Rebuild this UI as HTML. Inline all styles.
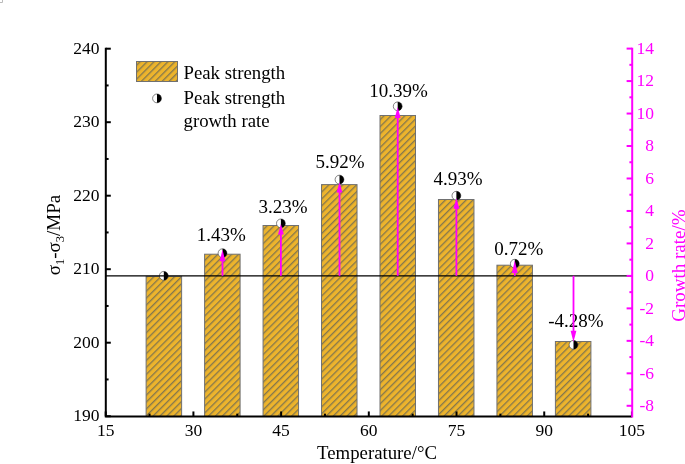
<!DOCTYPE html>
<html><head><meta charset="utf-8"><style>
html,body{margin:0;padding:0;background:#fff;width:685px;height:464px;overflow:hidden}
svg{display:block;will-change:transform}
</style></head><body>
<svg width="685" height="464" viewBox="0 0 685 464" font-family='"Liberation Serif", serif'>
<defs>
<pattern id="h" patternUnits="userSpaceOnUse" width="4.9" height="4.9" patternTransform="rotate(45)"><rect width="4.9" height="4.9" fill="#edb42c"/><line x1="0.7" y1="0" x2="0.7" y2="4.9" stroke="#787050" stroke-width="1.2"/></pattern>
</defs>
<rect width="685" height="464" fill="#fff"/>
<path d="M0 2.5 H2.5 V0" fill="none" stroke="#bbb" stroke-width="1"/>
<rect x="146.12" y="276.40" width="35.50" height="140.05" fill="url(#h)" stroke="#707070" stroke-width="1"/>
<rect x="204.59" y="254.20" width="35.50" height="162.25" fill="url(#h)" stroke="#707070" stroke-width="1"/>
<rect x="263.06" y="225.50" width="35.50" height="190.95" fill="url(#h)" stroke="#707070" stroke-width="1"/>
<rect x="321.53" y="184.60" width="35.50" height="231.85" fill="url(#h)" stroke="#707070" stroke-width="1"/>
<rect x="380.00" y="115.50" width="35.50" height="300.95" fill="url(#h)" stroke="#707070" stroke-width="1"/>
<rect x="438.47" y="199.50" width="35.50" height="216.95" fill="url(#h)" stroke="#707070" stroke-width="1"/>
<rect x="496.94" y="265.20" width="35.50" height="151.25" fill="url(#h)" stroke="#707070" stroke-width="1"/>
<rect x="555.41" y="341.50" width="35.50" height="74.95" fill="url(#h)" stroke="#707070" stroke-width="1"/>
<text x="221.34" y="240.89" font-size="19" text-anchor="middle" fill="#000">1.43%</text>
<text x="283.11" y="212.96" font-size="19" text-anchor="middle" fill="#000">3.23%</text>
<text x="340.08" y="168.49" font-size="19" text-anchor="middle" fill="#000">5.92%</text>
<text x="398.55" y="97.11" font-size="19" text-anchor="middle" fill="#000">10.39%</text>
<text x="457.92" y="185.16" font-size="19" text-anchor="middle" fill="#000">4.93%</text>
<text x="518.79" y="255.11" font-size="19" text-anchor="middle" fill="#000">0.72%</text>
<text x="575.96" y="327.30" font-size="19" text-anchor="middle" fill="#000">-4.28%</text>
<circle cx="163.80" cy="275.80" r="4.4" fill="#fff" stroke="#333" stroke-width="0.6"/><path d="M163.80 271.40 A4.4 4.4 0 0 1 163.80 280.20 Z" fill="#000"/>
<circle cx="222.50" cy="253.20" r="4.4" fill="#fff" stroke="#333" stroke-width="0.6"/><path d="M222.50 248.80 A4.4 4.4 0 0 1 222.50 257.60 Z" fill="#000"/>
<circle cx="280.90" cy="223.40" r="4.4" fill="#fff" stroke="#333" stroke-width="0.6"/><path d="M280.90 219.00 A4.4 4.4 0 0 1 280.90 227.80 Z" fill="#000"/>
<circle cx="339.50" cy="179.60" r="4.4" fill="#fff" stroke="#333" stroke-width="0.6"/><path d="M339.50 175.20 A4.4 4.4 0 0 1 339.50 184.00 Z" fill="#000"/>
<circle cx="397.70" cy="106.30" r="4.4" fill="#fff" stroke="#333" stroke-width="0.6"/><path d="M397.70 101.90 A4.4 4.4 0 0 1 397.70 110.70 Z" fill="#000"/>
<circle cx="456.40" cy="195.70" r="4.4" fill="#fff" stroke="#333" stroke-width="0.6"/><path d="M456.40 191.30 A4.4 4.4 0 0 1 456.40 200.10 Z" fill="#000"/>
<circle cx="514.80" cy="263.70" r="4.4" fill="#fff" stroke="#333" stroke-width="0.6"/><path d="M514.80 259.30 A4.4 4.4 0 0 1 514.80 268.10 Z" fill="#000"/>
<circle cx="573.50" cy="344.80" r="4.4" fill="#fff" stroke="#333" stroke-width="0.6"/><path d="M573.50 340.40 A4.4 4.4 0 0 1 573.50 349.20 Z" fill="#000"/>
<line x1="105.8" y1="275.90" x2="632.2" y2="275.90" stroke="#000" stroke-width="1.3"/>
<line x1="222.50" y1="275.80" x2="222.50" y2="255.45" stroke="#ff00ff" stroke-width="1.8"/>
<path d="M222.50 249.70 L219.60 261.20 L225.40 261.20 Z" fill="#ff00ff"/>
<line x1="280.90" y1="275.80" x2="280.90" y2="229.15" stroke="#ff00ff" stroke-width="1.8"/>
<path d="M280.90 223.90 L278.00 234.40 L283.80 234.40 Z" fill="#ff00ff"/>
<line x1="339.50" y1="275.80" x2="339.50" y2="187.25" stroke="#ff00ff" stroke-width="1.8"/>
<path d="M339.50 181.90 L336.60 192.60 L342.40 192.60 Z" fill="#ff00ff"/>
<line x1="397.70" y1="275.80" x2="397.70" y2="112.55" stroke="#ff00ff" stroke-width="1.8"/>
<path d="M397.70 107.10 L394.80 118.00 L400.60 118.00 Z" fill="#ff00ff"/>
<line x1="456.40" y1="275.80" x2="456.40" y2="203.30" stroke="#ff00ff" stroke-width="1.8"/>
<path d="M456.40 197.90 L453.50 208.70 L459.30 208.70 Z" fill="#ff00ff"/>
<line x1="514.80" y1="275.80" x2="514.80" y2="266.80" stroke="#ff00ff" stroke-width="1.8"/>
<path d="M514.80 260.50 L511.90 273.10 L517.70 273.10 Z" fill="#ff00ff"/>
<line x1="573.50" y1="275.80" x2="573.50" y2="336.40" stroke="#ff00ff" stroke-width="1.8"/>
<path d="M573.50 342.10 L570.60 330.70 L576.40 330.70 Z" fill="#ff00ff"/>
<line x1="105.8" y1="416.20" x2="110.8" y2="416.20" stroke="#000" stroke-width="2"/>
<text x="99.5" y="421.10" font-size="17.5" text-anchor="end" fill="#000">190</text>
<line x1="105.8" y1="379.45" x2="108.6" y2="379.45" stroke="#000" stroke-width="2"/>
<line x1="105.8" y1="342.70" x2="110.8" y2="342.70" stroke="#000" stroke-width="2"/>
<text x="99.5" y="347.60" font-size="17.5" text-anchor="end" fill="#000">200</text>
<line x1="105.8" y1="305.95" x2="108.6" y2="305.95" stroke="#000" stroke-width="2"/>
<line x1="105.8" y1="269.20" x2="110.8" y2="269.20" stroke="#000" stroke-width="2"/>
<text x="99.5" y="274.10" font-size="17.5" text-anchor="end" fill="#000">210</text>
<line x1="105.8" y1="232.45" x2="108.6" y2="232.45" stroke="#000" stroke-width="2"/>
<line x1="105.8" y1="195.70" x2="110.8" y2="195.70" stroke="#000" stroke-width="2"/>
<text x="99.5" y="200.60" font-size="17.5" text-anchor="end" fill="#000">220</text>
<line x1="105.8" y1="158.95" x2="108.6" y2="158.95" stroke="#000" stroke-width="2"/>
<line x1="105.8" y1="122.20" x2="110.8" y2="122.20" stroke="#000" stroke-width="2"/>
<text x="99.5" y="127.10" font-size="17.5" text-anchor="end" fill="#000">230</text>
<line x1="105.8" y1="85.45" x2="108.6" y2="85.45" stroke="#000" stroke-width="2"/>
<line x1="105.8" y1="48.70" x2="110.8" y2="48.70" stroke="#000" stroke-width="2"/>
<text x="99.5" y="53.60" font-size="17.5" text-anchor="end" fill="#000">240</text>
<line x1="105.70" y1="416.45" x2="105.70" y2="411.45" stroke="#000" stroke-width="2"/>
<text x="105.70" y="435.84999999999997" font-size="17.5" text-anchor="middle" fill="#000">15</text>
<line x1="193.41" y1="416.45" x2="193.41" y2="411.45" stroke="#000" stroke-width="2"/>
<text x="193.41" y="435.84999999999997" font-size="17.5" text-anchor="middle" fill="#000">30</text>
<line x1="281.11" y1="416.45" x2="281.11" y2="411.45" stroke="#000" stroke-width="2"/>
<text x="281.11" y="435.84999999999997" font-size="17.5" text-anchor="middle" fill="#000">45</text>
<line x1="368.81" y1="416.45" x2="368.81" y2="411.45" stroke="#000" stroke-width="2"/>
<text x="368.81" y="435.84999999999997" font-size="17.5" text-anchor="middle" fill="#000">60</text>
<line x1="456.52" y1="416.45" x2="456.52" y2="411.45" stroke="#000" stroke-width="2"/>
<text x="456.52" y="435.84999999999997" font-size="17.5" text-anchor="middle" fill="#000">75</text>
<line x1="544.23" y1="416.45" x2="544.23" y2="411.45" stroke="#000" stroke-width="2"/>
<text x="544.23" y="435.84999999999997" font-size="17.5" text-anchor="middle" fill="#000">90</text>
<line x1="631.93" y1="416.45" x2="631.93" y2="411.45" stroke="#000" stroke-width="2"/>
<text x="631.93" y="435.84999999999997" font-size="17.5" text-anchor="middle" fill="#000">105</text>
<line x1="149.55" y1="416.45" x2="149.55" y2="413.65" stroke="#000" stroke-width="2"/>
<line x1="237.26" y1="416.45" x2="237.26" y2="413.65" stroke="#000" stroke-width="2"/>
<line x1="324.96" y1="416.45" x2="324.96" y2="413.65" stroke="#000" stroke-width="2"/>
<line x1="412.67" y1="416.45" x2="412.67" y2="413.65" stroke="#000" stroke-width="2"/>
<line x1="500.37" y1="416.45" x2="500.37" y2="413.65" stroke="#000" stroke-width="2"/>
<line x1="588.08" y1="416.45" x2="588.08" y2="413.65" stroke="#000" stroke-width="2"/>
<path d="M105.8 47.8 V416.45 H632.2" fill="none" stroke="#000" stroke-width="2"/>
<line x1="632.2" y1="405.79" x2="626.6" y2="405.79" stroke="#ff00ff" stroke-width="2"/>
<text x="654.1" y="411.19" font-size="17.5" text-anchor="end" fill="#ff00ff">-8</text>
<line x1="632.2" y1="389.56" x2="629.4000000000001" y2="389.56" stroke="#ff00ff" stroke-width="2"/>
<line x1="632.2" y1="373.32" x2="626.6" y2="373.32" stroke="#ff00ff" stroke-width="2"/>
<text x="654.1" y="378.72" font-size="17.5" text-anchor="end" fill="#ff00ff">-6</text>
<line x1="632.2" y1="357.08" x2="629.4000000000001" y2="357.08" stroke="#ff00ff" stroke-width="2"/>
<line x1="632.2" y1="340.85" x2="626.6" y2="340.85" stroke="#ff00ff" stroke-width="2"/>
<text x="654.1" y="346.25" font-size="17.5" text-anchor="end" fill="#ff00ff">-4</text>
<line x1="632.2" y1="324.61" x2="629.4000000000001" y2="324.61" stroke="#ff00ff" stroke-width="2"/>
<line x1="632.2" y1="308.38" x2="626.6" y2="308.38" stroke="#ff00ff" stroke-width="2"/>
<text x="654.1" y="313.78" font-size="17.5" text-anchor="end" fill="#ff00ff">-2</text>
<line x1="632.2" y1="292.14" x2="629.4000000000001" y2="292.14" stroke="#ff00ff" stroke-width="2"/>
<line x1="632.2" y1="275.90" x2="626.6" y2="275.90" stroke="#ff00ff" stroke-width="2"/>
<text x="654.1" y="281.30" font-size="17.5" text-anchor="end" fill="#ff00ff">0</text>
<line x1="632.2" y1="259.67" x2="629.4000000000001" y2="259.67" stroke="#ff00ff" stroke-width="2"/>
<line x1="632.2" y1="243.43" x2="626.6" y2="243.43" stroke="#ff00ff" stroke-width="2"/>
<text x="654.1" y="248.83" font-size="17.5" text-anchor="end" fill="#ff00ff">2</text>
<line x1="632.2" y1="227.20" x2="629.4000000000001" y2="227.20" stroke="#ff00ff" stroke-width="2"/>
<line x1="632.2" y1="210.96" x2="626.6" y2="210.96" stroke="#ff00ff" stroke-width="2"/>
<text x="654.1" y="216.36" font-size="17.5" text-anchor="end" fill="#ff00ff">4</text>
<line x1="632.2" y1="194.72" x2="629.4000000000001" y2="194.72" stroke="#ff00ff" stroke-width="2"/>
<line x1="632.2" y1="178.49" x2="626.6" y2="178.49" stroke="#ff00ff" stroke-width="2"/>
<text x="654.1" y="183.89" font-size="17.5" text-anchor="end" fill="#ff00ff">6</text>
<line x1="632.2" y1="162.25" x2="629.4000000000001" y2="162.25" stroke="#ff00ff" stroke-width="2"/>
<line x1="632.2" y1="146.02" x2="626.6" y2="146.02" stroke="#ff00ff" stroke-width="2"/>
<text x="654.1" y="151.42" font-size="17.5" text-anchor="end" fill="#ff00ff">8</text>
<line x1="632.2" y1="129.78" x2="629.4000000000001" y2="129.78" stroke="#ff00ff" stroke-width="2"/>
<line x1="632.2" y1="113.54" x2="626.6" y2="113.54" stroke="#ff00ff" stroke-width="2"/>
<text x="654.1" y="118.94" font-size="17.5" text-anchor="end" fill="#ff00ff">10</text>
<line x1="632.2" y1="97.31" x2="629.4000000000001" y2="97.31" stroke="#ff00ff" stroke-width="2"/>
<line x1="632.2" y1="81.07" x2="626.6" y2="81.07" stroke="#ff00ff" stroke-width="2"/>
<text x="654.1" y="86.47" font-size="17.5" text-anchor="end" fill="#ff00ff">12</text>
<line x1="632.2" y1="64.84" x2="629.4000000000001" y2="64.84" stroke="#ff00ff" stroke-width="2"/>
<line x1="632.2" y1="48.60" x2="626.6" y2="48.60" stroke="#ff00ff" stroke-width="2"/>
<text x="654.1" y="54.00" font-size="17.5" text-anchor="end" fill="#ff00ff">14</text>
<line x1="632.2" y1="47.8" x2="632.2" y2="417.45" stroke="#ff00ff" stroke-width="2"/>
<rect x="136.5" y="61.5" width="41" height="20" fill="url(#h)" stroke="#707070" stroke-width="1"/>
<text x="183.5" y="78.6" font-size="18.8" fill="#000">Peak strength</text>
<circle cx="157.00" cy="98.40" r="4.4" fill="#fff" stroke="#333" stroke-width="0.6"/><path d="M157.00 94.00 A4.4 4.4 0 0 1 157.00 102.80 Z" fill="#000"/>
<text x="183.5" y="104.4" font-size="18.8" fill="#000">Peak strength</text>
<text x="183.5" y="127" font-size="18.8" fill="#000">growth rate</text>
<text x="377" y="459" font-size="18.8" text-anchor="middle" fill="#000">Temperature/°C</text>
<g transform="translate(60 235) rotate(-90)"><text x="0" y="0" font-size="19" text-anchor="middle" fill="#000">σ<tspan font-size="12.5" dy="4">1</tspan><tspan dy="-4">-σ</tspan><tspan font-size="12.5" dy="4">3</tspan><tspan dy="-4">/MPa</tspan></text></g>
<g transform="translate(684.5 265.6) rotate(-90)"><text x="0" y="0" font-size="19" text-anchor="middle" fill="#ff00ff">Growth rate/%</text></g>
</svg>
</body></html>
